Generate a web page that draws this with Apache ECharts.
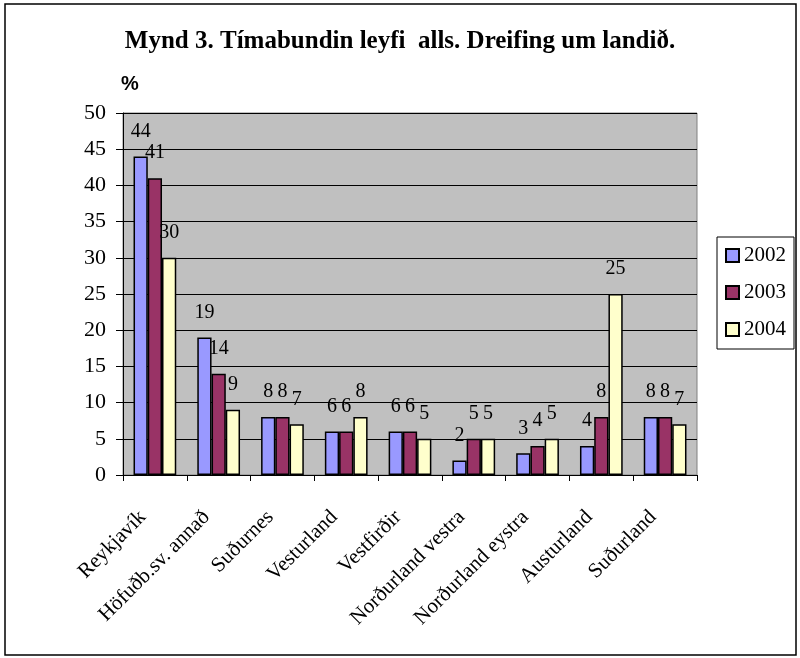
<!DOCTYPE html>
<html>
	<head>
		<meta charset="utf-8">
		<title>Mynd 3</title>
		<script src="https://cdn.jsdelivr.net/npm/echarts@6/dist/echarts.min.js"></script>
		<style>
			html, body {
				width: 100%;
				height: 100%;
				margin: 0;
				padding: 0;
				background: #fff;
			}
			#main {
				width: 800px;
				height: 658px;
			}
		</style>
	</head>
	<body>
		<div id="main"></div>
		<script>
			var categories = ['Reykjavík', 'Höfuðb.sv. annað', 'Suðurnes', 'Vesturland', 'Vestfirðir', 'Norðurland vestra', 'Norðurland eystra', 'Austurland', 'Suðurland'];
			var years = ['2002', '2003', '2004'];
			var v2002 = [44, 19, 8, 6, 6, 2, 3, 4, 8];
			var v2003 = [41, 14, 8, 6, 6, 5, 4, 8, 8];
			var v2004 = [30, 9, 7, 8, 5, 5, 5, 25, 7];
			var colors = ['#9999ff', '#993366', '#ffffcc'];
			var serif = "'Liberation Serif', 'DejaVu Serif', serif";

			function bar(name, data, color) {
				return {
					name: name,
					type: 'bar',
					data: data,
					barGap: '0%',
					barCategoryGap: '33%',
					itemStyle: {
						color: color,
						borderColor: '#000',
						borderWidth: 1.5
					},
					label: {
						show: true,
						position: 'top',
						distance: 15,
						color: '#000',
						fontFamily: serif,
						fontSize: 20
					}
				};
			}

			var chart = echarts.init(document.getElementById('main'), null, {renderer: 'canvas'});
			chart.setOption({
				animation: false,
				backgroundColor: '#fff',
				title: [{
					text: 'Mynd 3. Tímabundin leyfi  alls. Dreifing um landið.',
					left: 'center',
					top: 24,
					textStyle: {
						fontFamily: serif,
						fontWeight: 'bold',
						fontSize: 25,
						color: '#000'
					}
				}, {
					text: '%',
					left: 116,
					top: 69,
					textStyle: {
						fontFamily: "'Liberation Sans', Arial, sans-serif",
						fontWeight: 'bold',
						fontSize: 20,
						color: '#000'
					}
				}],
				graphic: [{
					type: 'rect',
					shape: {x: 5, y: 4, width: 791, height: 651},
					style: {fill: 'none', stroke: '#000', lineWidth: 1.5},
					silent: true
				}],
				legend: {
					data: years,
					orient: 'vertical',
					left: 717,
					top: 237,
					padding: [8, 8, 9, 8],
					itemWidth: 13,
					itemHeight: 13,
					itemGap: 16,
					borderColor: '#000',
					borderWidth: 1,
					backgroundColor: '#fff',
					icon: 'rect',
					textStyle: {
						fontFamily: serif,
						fontSize: 21,
						color: '#000'
					}
				},
				grid: {
					left: 123,
					top: 113,
					width: 574,
					height: 362,
					show: true,
					backgroundColor: '#c0c0c0',
					borderColor: '#808080',
					borderWidth: 1
				},
				xAxis: {
					type: 'category',
					data: categories,
					axisLine: {lineStyle: {color: '#000', width: 1}},
					axisTick: {show: true, length: 6, lineStyle: {color: '#000'}},
					axisLabel: {
						rotate: 45,
						margin: 27,
						padding: [0, 17, 0, 0],
						interval: 0,
						color: '#000',
						fontFamily: serif,
						fontSize: 21
					}
				},
				yAxis: {
					type: 'value',
					min: 0,
					max: 50,
					interval: 5,
					axisLine: {show: true, lineStyle: {color: '#000', width: 1}},
					axisTick: {show: true, length: 7, lineStyle: {color: '#000'}},
					axisLabel: {
						margin: 17,
						color: '#000',
						fontFamily: serif,
						fontSize: 22
					},
					splitLine: {lineStyle: {color: '#000', width: 1}}
				},
				series: [
					bar(years[0], v2002, colors[0]),
					bar(years[1], v2003, colors[1]),
					bar(years[2], v2004, colors[2])
				]
			});
		</script>
	</body>
</html>
